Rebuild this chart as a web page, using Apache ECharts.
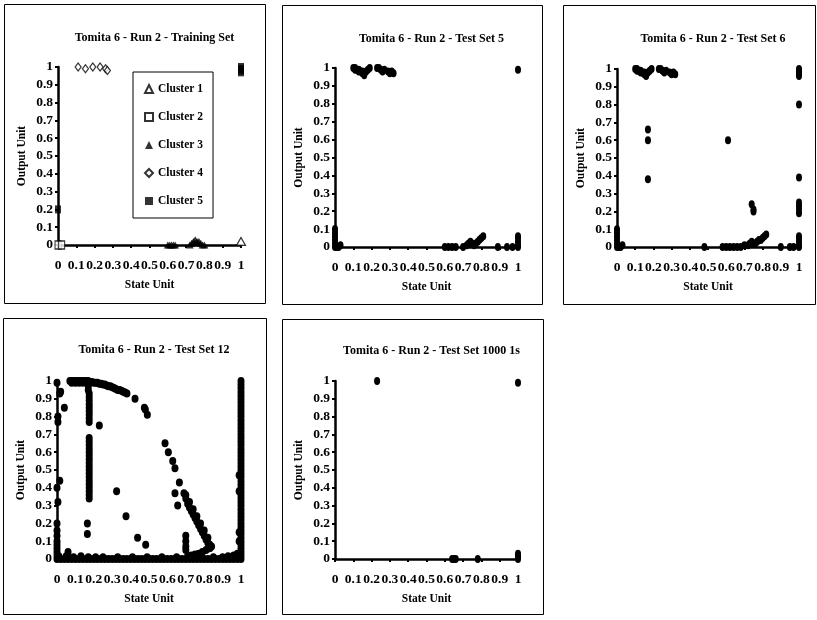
<!DOCTYPE html>
<html><head><meta charset="utf-8">
<script src="https://cdn.jsdelivr.net/npm/echarts@6/dist/echarts.min.js"></script>
<style>html,body{margin:0;padding:0;background:#fff}#c{width:817px;height:620px}</style>
</head><body><div id="c"></div>
<script>
// ---------- text ----------
const panelTitles = [
  'Tomita 6 - Run 2 - Training Set',
  'Tomita 6 - Run 2 - Test Set 5',
  'Tomita 6 - Run 2 - Test Set 6',
  'Tomita 6 - Run 2 - Test Set 12',
  'Tomita 6 - Run 2 - Test Set 1000 1s'
];
const xAxisName = 'State Unit';
const yAxisName = 'Output Unit';
const xTickLabels = ['0','0.1','0.2','0.3','0.4','0.5','0.6','0.7','0.8','0.9','1'];
const yTickLabels = ['0','0.1','0.2','0.3','0.4','0.5','0.6','0.7','0.8','0.9','1'];
const clusterNames = ['Cluster 1','Cluster 2','Cluster 3','Cluster 4','Cluster 5'];

// ---------- Training set clusters ----------
const cluster1 = [[1,0.02]];
const cluster2 = [[0,0],[0.02,0]];
const cluster3 = [[0.6,0],[0.61,0],[0.62,0],[0.63,0],[0.64,0],[0.72,0],[0.73,0.01],[0.74,0.02],[0.75,0.03],[0.76,0.02],[0.77,0.02],[0.78,0.01],[0.79,0],[0.8,0]];
const cluster4 = [[0.11,1],[0.15,0.99],[0.19,1],[0.23,1],[0.26,0.99],[0.27,0.98]];
const cluster5 = [[1,1],[1,0.99],[1,0.98],[1,0.97],[0,0.2]];

// ---------- Test Set 5 ----------
const set5 = [
  [0.10,1],[0.11,1],[0.12,0.99],[0.13,0.99],[0.14,0.98],[0.15,0.98],[0.16,0.97],[0.17,0.98],[0.18,0.99],[0.19,1],
  [0.11,0.99],[0.13,0.98],[0.15,0.97],[0.16,0.96],
  [0.23,1],[0.24,1],[0.25,0.99],[0.27,0.99],[0.29,0.98],[0.31,0.98],[0.32,0.97],[0.26,0.98],[0.3,0.97],[1,0.99],
  [0,0],[0,0.02],[0,0.04],[0,0.06],[0,0.08],[0,0.1],[0.01,0],[0.02,0],[0.03,0.01],
  [0.6,0],[0.62,0],[0.64,0],[0.66,0],[0.7,0],[0.72,0.01],[0.73,0.02],[0.74,0.03],[0.75,0.02],[0.76,0.01],
  [0.77,0.02],[0.78,0.03],[0.79,0.04],[0.8,0.05],[0.81,0.06],[0.89,0],[0.94,0],[0.97,0],
  [1,0],[1,0.01],[1,0.03],[1,0.05],[1,0.06]
];

// ---------- Test Set 6 ----------
const set6 = [
  [0.10,1],[0.11,1],[0.12,0.99],[0.13,0.99],[0.14,0.98],[0.15,0.98],[0.16,0.97],[0.17,0.98],[0.18,0.99],[0.19,1],
  [0.11,0.99],[0.13,0.98],[0.15,0.97],[0.16,0.96],
  [0.23,1],[0.24,1],[0.25,0.99],[0.27,0.99],[0.29,0.98],[0.31,0.98],[0.32,0.97],[0.26,0.98],[0.3,0.97],
  [0.17,0.66],[0.17,0.6],[0.17,0.38],[0.61,0.6],[0.74,0.24],[0.75,0.21],[0.75,0.2],
  [1,1],[1,0.99],[1,0.98],[1,0.97],[1,0.96],[1,0.8],[1,0.39],[1,0.25],[1,0.23],[1,0.21],[1,0.19],
  [0,0],[0,0.02],[0,0.04],[0,0.06],[0,0.08],[0,0.1],[0.01,0],[0.02,0],[0.03,0.01],[0.48,0],
  [0.58,0],[0.6,0],[0.62,0],[0.64,0],[0.66,0],[0.68,0],[0.7,0.01],[0.72,0.01],[0.73,0.02],[0.74,0.03],[0.75,0.02],
  [0.76,0.02],[0.77,0.03],[0.78,0.04],[0.79,0.04],[0.8,0.05],[0.81,0.06],[0.82,0.07],[0.9,0],[0.95,0],[0.97,0],
  [1,0],[1,0.01],[1,0.03],[1,0.05],[1,0.06]
];

// ---------- Test Set 12 ----------
const set12Arc = [[0.07,1],[0.08,1],[0.09,1],[0.1,1],[0.11,1],[0.12,1],[0.13,1],[0.14,1],[0.15,1],[0.16,1],[0.17,1],
  [0.18,0.995],[0.19,0.995],[0.2,0.99],[0.21,0.99],[0.22,0.99],[0.23,0.985],[0.24,0.985],[0.25,0.98],[0.26,0.98],
  [0.27,0.975],[0.28,0.97],[0.29,0.97],[0.3,0.965],[0.31,0.96],[0.32,0.955],[0.33,0.95],[0.34,0.95],[0.35,0.945],
  [0.36,0.94],[0.37,0.935],[0.38,0.93],[0.08,0.99],[0.1,0.99],[0.12,0.99],[0.14,0.99]];
const set12Column = [[0.17,0.99],[0.17,0.97],[0.17,0.95],[0.175,0.93],[0.175,0.91],[0.175,0.89],[0.175,0.87],[0.175,0.85],
  [0.175,0.83],[0.175,0.81],[0.175,0.79],[0.175,0.77],
  [0.175,0.68],[0.175,0.66],[0.175,0.64],[0.175,0.62],[0.175,0.6],[0.175,0.58],[0.175,0.56],[0.175,0.54],[0.175,0.52],
  [0.175,0.5],[0.175,0.48],[0.175,0.46],[0.175,0.44],[0.175,0.42],[0.175,0.4],[0.175,0.38],[0.175,0.36],[0.175,0.34],
  [0.165,0.2],[0.165,0.14]];
const set12Scatter = [[0.23,0.75],[0.324,0.38],[0.375,0.24],[0.438,0.12],[0.482,0.08],
  [0.424,0.9],[0.475,0.85],[0.48,0.84],[0.491,0.81],
  [0.587,0.65],[0.605,0.6],[0.629,0.55],[0.641,0.51],[0.665,0.43],[0.641,0.37],[0.656,0.3]];
const set12Diagonal = [[0.69,0.37],[0.7,0.34],[0.71,0.31],[0.72,0.29],[0.73,0.27],[0.74,0.25],[0.75,0.23],[0.76,0.21],
  [0.77,0.19],[0.78,0.17],[0.79,0.15],[0.8,0.13],[0.81,0.11],[0.82,0.09],[0.83,0.08],[0.84,0.07],
  [0.7,0.36],[0.72,0.32],[0.74,0.28],[0.76,0.24],[0.78,0.2],[0.8,0.16],[0.82,0.12],
  [0.83,0.06],[0.81,0.05],[0.79,0.04],[0.77,0.03],[0.75,0.025],[0.73,0.02],[0.71,0.015],
  [0.7,0.13],[0.7,0.1],[0.7,0.07],[0.7,0.05]];
const set12LeftEdge = [[0,0.02],[0,0.04],[0,0.06],[0,0.08],[0,0.1],[0,0.13],[0,0.16],[0,0.2],[0.005,0.32],[0,0.4],
  [0.015,0.44],[0.005,0.77],[0.005,0.8],[0.04,0.85],[0.015,0.93],[0.02,0.94],[0,0.99],[0.06,0.04]];
const set12Bottom = [[0,0],[0.02,0],[0.04,0],[0.06,0],[0.08,0],[0.1,0],[0.12,0],[0.14,0],[0.16,0],[0.18,0],[0.2,0],
  [0.22,0],[0.24,0],[0.26,0],[0.28,0],[0.3,0],[0.32,0],[0.34,0],[0.36,0],[0.38,0],[0.4,0],[0.42,0],[0.44,0],[0.46,0],
  [0.48,0],[0.5,0],[0.52,0],[0.54,0],[0.56,0],[0.58,0],[0.6,0],[0.62,0],[0.64,0],[0.66,0],[0.68,0],[0.7,0],[0.72,0],
  [0.74,0],[0.76,0],[0.78,0],[0.8,0],[0.82,0],[0.84,0],[0.86,0],[0.88,0],[0.9,0],[0.92,0],[0.94,0],[0.96,0],[0.98,0],[1,0],
  [0.01,0.015],[0.05,0.015],[0.09,0.01],[0.13,0.015],[0.17,0.01],[0.21,0.01],[0.25,0.01],[0.33,0.01],[0.41,0.01],
  [0.49,0.01],[0.57,0.01],[0.65,0.01],[0.85,0.01],[0.9,0.01],[0.93,0.015],[0.96,0.02],[0.98,0.03]];
const set12RightEdge = [[1,0.02],[1,0.04],[1,0.06],[1,0.08],[1,0.1],[1,0.12],[1,0.14],[1,0.16],[1,0.18],[1,0.2],[1,0.22],
  [1,0.24],[1,0.26],[1,0.28],[1,0.3],[1,0.32],[1,0.34],[1,0.36],[1,0.38],[1,0.4],[1,0.42],[1,0.44],[1,0.46],[1,0.48],
  [1,0.5],[1,0.52],[1,0.54],[1,0.56],[1,0.58],[1,0.6],[1,0.62],[1,0.64],[1,0.66],[1,0.68],[1,0.7],[1,0.72],[1,0.74],
  [1,0.76],[1,0.78],[1,0.8],[1,0.82],[1,0.84],[1,0.86],[1,0.88],[1,0.9],[1,0.92],[1,0.94],[1,0.96],[1,0.98],[1,1],
  [0.99,0.47],[0.99,0.38],[0.99,0.15],[0.99,0.1]];

// ---------- Test Set 1000 1s ----------
const set1000 = [[0.23,1],[1,0.99],[0.64,0],[0.65,0],[0.66,0],[0.78,0],[1,0],[1,0.01],[1,0.02],[1,0.03]];

// ---------- layout ----------
const FONT = '"Liberation Serif", "Times New Roman", serif';
const boxes = [[4,4,261,299],[282,5,260,299],[563,5,252,299],[3,318,263,296],[282,319,261,295]];
const grids = [
  {left:58, top:67, width:183, height:178},
  {left:335, top:68, width:183, height:179},
  {left:617, top:69, width:182, height:178},
  {left:57, top:381, width:184, height:178},
  {left:335, top:381, width:183, height:178}
];
const titleY = [27, 28, 28, 339, 340];

const xAxes = [], yAxes = [], titles = [];
grids.forEach((g, i) => {
  xAxes.push({
    gridIndex: i, type: 'value', min: 0, max: 1, interval: 0.1,
    name: xAxisName, nameLocation: 'middle', nameGap: 34,
    nameTextStyle: {fontFamily: FONT, fontWeight: 'bold', fontSize: 11.5, color: '#000'},
    axisLine: {show: true, onZero: false, lineStyle: {color: '#000', width: 2.5}},
    axisTick: {show: true, length: 3, lineStyle: {color: '#000', width: 2}},
    splitLine: {show: false},
    axisLabel: {margin: 14, fontFamily: FONT, fontWeight: 'bold', fontSize: 13.5, color: '#000',
      formatter: v => xTickLabels[Math.round(v * 10)]}
  });
  yAxes.push({
    gridIndex: i, type: 'value', min: 0, max: 1, interval: 0.1,
    name: yAxisName, nameLocation: 'middle', nameGap: 30,
    nameTextStyle: {fontFamily: FONT, fontWeight: 'bold', fontSize: 11.5, color: '#000'},
    axisLine: {show: true, onZero: false, lineStyle: {color: '#000', width: 2.5}},
    axisTick: {show: true, length: 3, lineStyle: {color: '#000', width: 2}},
    splitLine: {show: false},
    axisLabel: {margin: 5, fontFamily: FONT, fontWeight: 'bold', fontSize: 13.5, color: '#000',
      formatter: v => yTickLabels[Math.round(v * 10)]}
  });
  titles.push({
    text: panelTitles[i], left: g.left + g.width / 2, top: titleY[i], textAlign: 'center',
    textStyle: {fontFamily: FONT, fontWeight: 'bold', fontSize: 12, color: '#000'}
  });
});

const dot = (gi, name, data, size) => ({
  type: 'scatter', name: name, xAxisIndex: gi, yAxisIndex: gi, data: data,
  symbol: 'circle', symbolSize: size, itemStyle: {color: '#000', opacity: 1}, silent: true
});

const series = [
  {type:'scatter', name: clusterNames[0], xAxisIndex:0, yAxisIndex:0, data: cluster1, symbol:'triangle', symbolSize:[9,8],
    itemStyle:{color:'#fff', borderColor:'#000', borderWidth:1.2}},
  {type:'scatter', name: clusterNames[1], xAxisIndex:0, yAxisIndex:0, data: cluster2, symbol:'rect', symbolSize:[6,8],
    itemStyle:{color:'#fff', borderColor:'#000', borderWidth:1.2}},
  {type:'scatter', name: clusterNames[2], xAxisIndex:0, yAxisIndex:0, data: cluster3, symbol:'triangle', symbolSize:[8,7],
    itemStyle:{color:'#000'}},
  {type:'scatter', name: clusterNames[3], xAxisIndex:0, yAxisIndex:0, data: cluster4, symbol:'diamond', symbolSize:[6,8],
    itemStyle:{color:'#fff', borderColor:'#000', borderWidth:1.2}},
  {type:'scatter', name: clusterNames[4], xAxisIndex:0, yAxisIndex:0, data: cluster5, symbol:'rect', symbolSize:[6,8],
    itemStyle:{color:'#000'}},
  dot(1, 'set5', set5, [6,8]),
  dot(2, 'set6', set6, [6,8]),
  dot(3, 'set12', [].concat(set12Bottom, set12RightEdge, set12LeftEdge, set12Arc, set12Column, set12Scatter, set12Diagonal), [7,8]),
  dot(4, 'set1000', set1000, [6,8])
];

const chart = echarts.init(document.getElementById('c'), null, {renderer: 'canvas'});
chart.setOption({
  animation: false,
  backgroundColor: '#fff',
  title: titles,
  grid: grids.map(g => Object.assign({containLabel: false}, g)),
  xAxis: xAxes,
  yAxis: yAxes,
  legend: {
    data: clusterNames, orient: 'vertical', left: 133, top: 72,
    padding: [11, 10, 11, 11], itemGap: 16, itemWidth: 8, itemHeight: 8,
    borderColor: '#000', borderWidth: 1, backgroundColor: '#fff',
    textStyle: {fontFamily: FONT, fontWeight: 'bold', fontSize: 11.5, color: '#000'},
    selectedMode: false
  },
  graphic: boxes.map(b => ({
    type: 'rect', silent: true, z: -10,
    shape: {x: b[0] + 0.5, y: b[1] + 0.5, width: b[2], height: b[3]},
    style: {fill: 'none', stroke: '#000', lineWidth: 1}
  })),
  series: series
});
</script>
</body></html>
